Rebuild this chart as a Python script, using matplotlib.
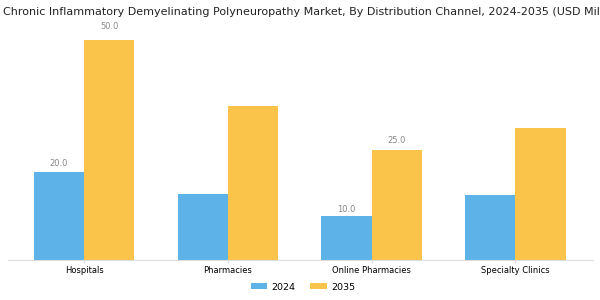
import matplotlib
matplotlib.use("Agg")
import matplotlib.pyplot as plt
import numpy as np

channels = ["Hospitals", "Pharmacies", "Online Pharmacies", "Specialty Clinics"]
years = ["2024", "2035"]
values_2024 = [20.0, 15.0, 10.0, 14.8]
values_2035 = [50.0, 35.0, 25.0, 30.0]
# which bars carry a value label in the source chart
labelled_2024 = [True, False, True, False]
labelled_2035 = [True, False, True, False]

blue = "#5DB3E8"
yellow = "#FAC44A"

fig = plt.figure(figsize=(6, 3), dpi=100)
ax = fig.add_axes([0.0133, 0.1333, 0.975, 0.77])

x = np.arange(len(channels))
w = 0.35
b1 = ax.bar(x - w / 2, values_2024, w, color=blue, label=years[0])
b2 = ax.bar(x + w / 2, values_2035, w, color=yellow, label=years[1])

for bars, vals, flags in ((b1, values_2024, labelled_2024), (b2, values_2035, labelled_2035)):
    for r, v, f in zip(bars, vals, flags):
        if f:
            ax.text(r.get_x() + r.get_width() / 2, v * 1.04 + 1.1, f"{v:.1f}",
                    ha="center", va="center", fontsize=6, color="#888888")

ax.set_xlim(-0.53, 3.54)
ax.set_ylim(0, 52.5)
ax.set_xticks(x)
ax.set_xticklabels(channels, fontsize=6)
ax.tick_params(axis="x", length=2, width=0.5, color="#cccccc", pad=2)
ax.set_yticks([])
for s in ("top", "right", "left"):
    ax.spines[s].set_visible(False)
ax.spines["bottom"].set_color("#dddddd")
ax.spines["bottom"].set_linewidth(0.8)

fig.text(3 / 600, 1 - 12 / 300, "Chronic Inflammatory Demyelinating Polyneuropathy Market, "
         "By Distribution Channel, 2024-2035 (USD Million)",
         ha="left", va="center", fontsize=8.05, color="#222222")

fig.legend(handles=[b1, b2], labels=years, loc="center", bbox_to_anchor=(0.505, 1 - 287 / 300),
           ncol=2, frameon=False, fontsize=6.8, handlelength=1.7, handleheight=0.5,
           handletextpad=0.5, columnspacing=1.6)

fig.savefig("out.png", dpi=100)
